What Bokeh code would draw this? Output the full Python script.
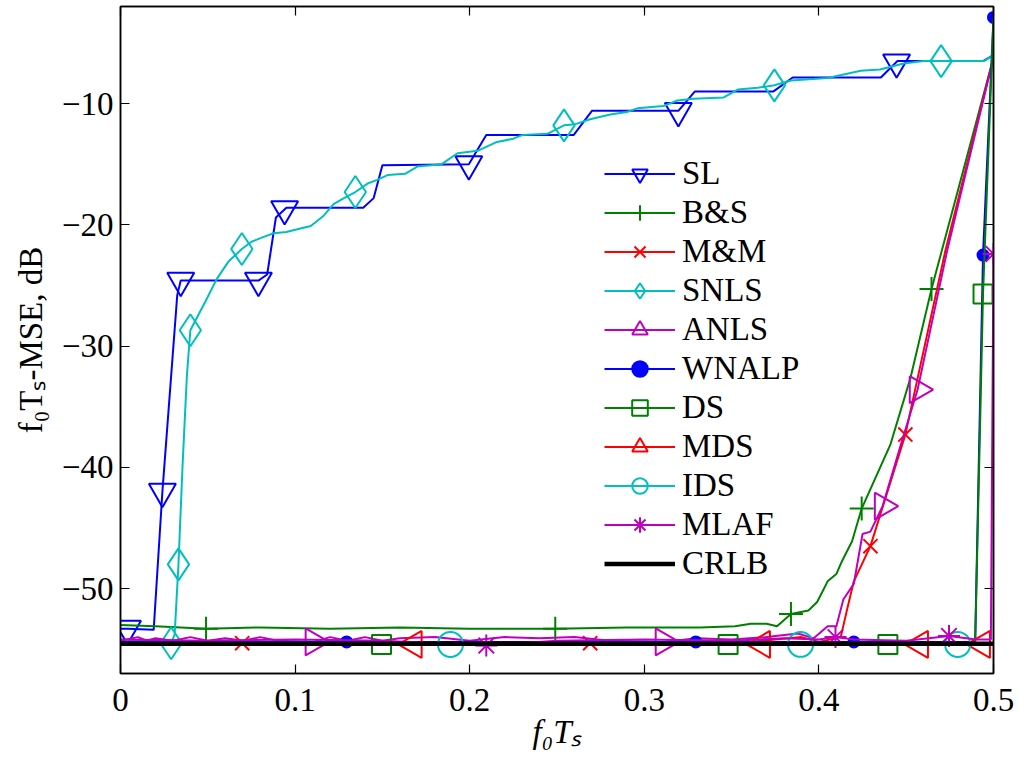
import math
from bokeh.plotting import figure
from bokeh.models import Range1d, LinearAxis, FixedTicker, Legend, LegendItem
from bokeh.embed import file_html
from bokeh.resources import INLINE

# ---------------- data ----------------
x_ticks = [0, 0.1, 0.2, 0.3, 0.4, 0.5]
x_tick_labels = ["0", "0.1", "0.2", "0.3", "0.4", "0.5"]
y_ticks = [-50, -40, -30, -20, -10]
y_tick_labels = ["\u221250", "\u221240", "\u221230", "\u221220", "\u221210"]

# SL
sl_x = [0.0, 0.004, 0.019, 0.024, 0.0325, 0.0345, 0.079, 0.084, 0.089, 0.095, 0.139, 0.145, 0.150,
        0.1995, 0.2095, 0.2595, 0.270, 0.3195, 0.329, 0.374, 0.385, 0.4355, 0.445, 0.494, 0.5]
sl_y = [-53.3, -53.3, -53.4, -42.0, -25.8, -24.6, -24.6, -24.1, -19.4, -18.6, -18.6, -17.8, -15.1,
        -15.0, -12.6, -12.6, -10.6, -10.6, -9.0, -9.0, -7.85, -7.85, -6.5, -6.5, -6.0]
sl_mx = [0.004, 0.024, 0.0345, 0.079, 0.094, 0.1995, 0.3195, 0.4445]
sl_my = [-53.3, -42.0, -24.6, -24.6, -18.7, -15.0, -10.6, -6.6]

# B&S
bs_x = [0.0, 0.02, 0.049, 0.08, 0.12, 0.16, 0.2, 0.249, 0.29, 0.332, 0.352, 0.361, 0.370, 0.376,
        0.384, 0.394, 0.399, 0.405, 0.410, 0.413, 0.419, 0.4245, 0.441, 0.4525, 0.4645, 0.5]
bs_y = [-53.0, -53.1, -53.3, -53.2, -53.3, -53.2, -53.3, -53.3, -53.2, -53.2, -53.1, -52.9, -52.9, -53.1,
        -52.1, -51.8, -51.1, -49.4, -48.8, -47.8, -46.1, -43.4, -38.1, -32.6, -25.3, -6.2]
bs_mx = [0.049, 0.249, 0.384, 0.4245, 0.4645]
bs_my = [-53.3, -53.3, -52.1, -43.4, -25.3]

# M&M
mm_x = [0.0, 0.03, 0.0697, 0.1, 0.15, 0.2, 0.269, 0.32, 0.36, 0.39, 0.40, 0.4125, 0.4165, 0.420,
        0.4295, 0.4495, 0.4725, 0.5]
mm_y = [-54.4, -54.3, -54.5, -54.4, -54.4, -54.4, -54.5, -54.4, -54.4, -54.0, -54.4, -54.0, -51.5, -49.4,
        -46.5, -37.3, -22.1, -6.2]
mm_mx = [0.0697, 0.269, 0.4295, 0.4495]
mm_my = [-54.5, -54.5, -46.5, -37.3]

# SNLS
snls_x = [0.0, 0.01, 0.02, 0.029, 0.031, 0.0332, 0.0355, 0.038, 0.040, 0.0487, 0.055, 0.062, 0.0695,
          0.075, 0.082, 0.0877, 0.095, 0.103, 0.109, 0.116, 0.122, 0.128, 0.1345, 0.1415, 0.147, 0.153,
          0.163, 0.170, 0.184, 0.193, 0.2045, 0.215, 0.225, 0.230, 0.2445, 0.254, 0.2605, 0.269, 0.2805,
          0.290, 0.296, 0.311, 0.319, 0.328, 0.3455, 0.3535, 0.365, 0.3745, 0.384, 0.405, 0.424, 0.435,
          0.4485, 0.460, 0.470, 0.4945, 0.5]
snls_y = [-54.4, -54.3, -54.4, -54.5, -53.8, -48.0, -40.0, -32.5, -28.7, -26.3, -24.5, -23.0, -22.0,
          -21.4, -21.0, -20.7, -20.6, -20.3, -20.1, -19.3, -18.3, -17.8, -17.3, -16.6, -16.3, -15.9,
          -15.8, -15.2, -15.0, -14.1, -13.9, -13.2, -12.9, -12.6, -12.5, -11.8, -11.7, -11.3, -10.9,
          -10.7, -10.4, -10.2, -9.75, -9.6, -9.5, -8.85, -8.7, -8.5, -8.1, -7.9, -7.3, -7.2,
          -6.7, -6.5, -6.5, -6.5, -6.0]
snls_mx = [0.029, 0.0332, 0.040, 0.0695, 0.1345, 0.254, 0.3745, 0.470]
snls_my = [-54.5, -48.0, -28.7, -22.0, -17.3, -11.8, -8.5, -6.5]

# ANLS
anls_x = [0.0, 0.01, 0.015, 0.02, 0.03, 0.04, 0.05, 0.06, 0.07, 0.08, 0.09, 0.1105, 0.12, 0.13, 0.14,
          0.15, 0.16, 0.18, 0.2, 0.22, 0.24, 0.26, 0.28, 0.311, 0.33, 0.35, 0.37, 0.388, 0.397, 0.405,
          0.41, 0.414, 0.42, 0.425, 0.4295, 0.4365, 0.447, 0.4565, 0.4735, 0.5]
anls_y = [-54.3, -54.0, -54.3, -54.1, -54.3, -54.0, -54.3, -54.1, -54.3, -54.0, -54.3, -54.4, -54.0, -54.3,
          -54.0, -54.3, -54.1, -54.0, -54.3, -54.0, -54.1, -54.0, -54.3, -54.4, -54.1, -54.2, -54.0, -53.7,
          -54.1, -53.1, -53.1, -50.9, -49.6, -45.5, -45.3, -43.2, -38.1, -33.6, -22.1, -6.2]
anls_mx = [0.1105, 0.311, 0.4365, 0.4565]
anls_my = [-54.4, -54.4, -43.2, -33.6]

# WNALP
wn_x = [0.0, 0.06, 0.1295, 0.2, 0.3295, 0.38, 0.42, 0.4895, 0.494, 0.5]
wn_y = [-54.4, -54.4, -54.4, -54.4, -54.4, -54.4, -54.4, -54.4, -22.5, -2.9]
wn_mx = [0.1295, 0.3295, 0.42, 0.494, 0.5]
wn_my = [-54.4, -54.4, -54.4, -22.5, -2.9]

# DS
ds_x = [0.0, 0.1495, 0.25, 0.348, 0.4395, 0.4895, 0.494, 0.5]
ds_y = [-54.5, -54.6, -54.5, -54.6, -54.6, -54.5, -25.7, -2.9]
ds_mx = [0.1495, 0.348, 0.4395, 0.494]
ds_my = [-54.6, -54.6, -54.6, -25.7]

# MDS
mds_x = [0.0, 0.168, 0.3675, 0.458, 0.4935, 0.5]
mds_y = [-54.6, -54.6, -54.6, -54.6, -54.6, -54.6]
mds_mx = [0.168, 0.3675, 0.458, 0.4935]
mds_my = [-54.6, -54.6, -54.6, -54.6]

# IDS
ids_x = [0.0, 0.189, 0.3895, 0.4795, 0.5]
ids_y = [-54.5, -54.6, -54.6, -54.6, -54.5]
ids_mx = [0.189, 0.3895, 0.4795]
ids_my = [-54.6, -54.6, -54.6]

# MLAF
mlaf_x = [0.0, 0.05, 0.1, 0.15, 0.2095, 0.25, 0.3, 0.35, 0.38, 0.4, 0.4095, 0.42, 0.45, 0.4745, 0.49,
          0.4985, 0.5]
mlaf_y = [-54.2, -54.3, -54.2, -54.3, -54.7, -54.3, -54.2, -54.3, -54.1, -54.2, -54.0, -54.2, -54.3, -53.9,
          -54.2, -54.2, -22.4]
mlaf_mx = [0.2095, 0.4095, 0.4745, 0.5]
mlaf_my = [-54.7, -54.0, -53.9, -22.4]

# CRLB
crlb_x = [0.0, 0.5]
crlb_y = [-54.55, -54.55]

# ---------------- style ----------------
BLUE = "#0000FF"
GREEN = "#008000"
RED = "#FF0000"
CYAN = "#00BFBF"
MAGENTA = "#BF00BF"
FONT = "Liberation Serif"
FS = "33px"

p = figure(width=1019, height=758, output_backend="svg", toolbar_location=None,
           x_range=Range1d(0, 0.5), y_range=Range1d(-57.0, -2.0),
           min_border_left=120, min_border_right=26, min_border_top=6, min_border_bottom=85)
p.background_fill_color = "white"
p.border_fill_color = "white"
p.grid.visible = False
p.outline_line_color = "black"
p.outline_line_width = 1.5

def style_axis(ax, ticks, labels, show_labels):
    ax.ticker = FixedTicker(ticks=ticks)
    ax.major_tick_in = 9
    ax.major_tick_out = 0
    ax.minor_tick_line_color = None
    ax.major_tick_line_width = 1.2
    ax.axis_line_width = 1.5
    ax.axis_line_color = "black"
    ax.major_tick_line_color = "black"
    if show_labels:
        ax.major_label_overrides = {t: l for t, l in zip(ticks, labels)}
        ax.major_label_text_font = FONT
        ax.major_label_text_font_size = FS
        ax.major_label_text_color = "black"
    else:
        ax.major_label_overrides = {t: "" for t in ticks}
        ax.major_label_text_font_size = "0px"
        ax.major_label_standoff = 0

xa = p.xaxis[0]
ya = p.yaxis[0]
style_axis(xa, x_ticks, x_tick_labels, True)
style_axis(ya, y_ticks, y_tick_labels, True)
xa.major_label_standoff = 15
ya.major_label_standoff = 7

xa.axis_label = "f\u2080T\u209b"
xa.axis_label_text_font = FONT
xa.axis_label_text_font_size = FS
xa.axis_label_text_font_style = "italic"
xa.axis_label_standoff = 0
xa.axis_label_text_color = "black"

ya.axis_label = "f\u2080T\u209b-MSE, dB"
ya.axis_label_text_font = FONT
ya.axis_label_text_font_size = FS
ya.axis_label_text_font_style = "normal"
ya.axis_label_standoff = 10
ya.axis_label_text_color = "black"

top_ax = LinearAxis()
right_ax = LinearAxis()
style_axis(top_ax, x_ticks, x_tick_labels, False)
style_axis(right_ax, y_ticks, y_tick_labels, False)
p.add_layout(top_ax, "above")
p.add_layout(right_ax, "right")

LW = 2
MLW = 2
items = []

def series(name, x, y, mx, my, color, marker, size, fill=None, angle=0.0):
    r_line = p.line(x, y, line_color=color, line_width=LW)
    r_mark = p.scatter(mx, my, marker=marker, size=size, line_color=color, line_width=MLW,
                       fill_color=fill, angle=angle)
    items.append(LegendItem(label=name, renderers=[r_line, r_mark]))

series("SL", sl_x, sl_y, sl_mx, sl_my, BLUE, "inverted_triangle", 27)
series("B&S", bs_x, bs_y, bs_mx, bs_my, GREEN, "cross", 24)
series("M&M", mm_x, mm_y, mm_mx, mm_my, RED, "x", 20)
series("SNLS", snls_x, snls_y, snls_mx, snls_my, CYAN, "diamond", 32)
series("ANLS", anls_x, anls_y, anls_mx, anls_my, MAGENTA, "triangle", 27, angle=-math.pi / 2)
series("WNALP", wn_x, wn_y, wn_mx, wn_my, BLUE, "circle", 11, fill=BLUE)
series("DS", ds_x, ds_y, ds_mx, ds_my, GREEN, "square", 19)
series("MDS", mds_x, mds_y, mds_mx, mds_my, RED, "triangle", 27, angle=math.pi / 2)
series("IDS", ids_x, ids_y, ids_mx, ids_my, CYAN, "circle", 25)
series("MLAF", mlaf_x, mlaf_y, mlaf_mx, mlaf_my, MAGENTA, "asterisk", 22)
r_crlb = p.line(crlb_x, crlb_y, line_color="black", line_width=4.5)
items.append(LegendItem(label="CRLB", renderers=[r_crlb]))

legend = Legend(items=items, location=(484, 90), padding=0, margin=0, spacing=0,
                glyph_width=71, glyph_height=39, label_standoff=7,
                label_text_font=FONT, label_text_font_size=FS, label_text_color="black",
                border_line_alpha=0, background_fill_alpha=0)
p.add_layout(legend)

open("out.html", "w").write(file_html(p, INLINE))
